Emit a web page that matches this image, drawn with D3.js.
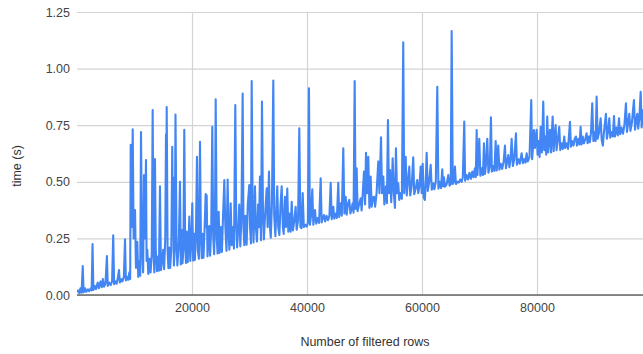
<!DOCTYPE html>
<html>
<head>
<meta charset="utf-8">
<script src="https://cdn.jsdelivr.net/npm/d3@7/dist/d3.min.js"></script>
<style>
  html, body { margin: 0; padding: 0; background: #ffffff; }
  #chart { width: 643px; height: 354px; }
  text { font-family: Arial, "Liberation Sans", sans-serif; }
</style>
</head>
<body>
<div id="chart"></div>
<script>
// tick labels
const yTicks = [0, 0.25, 0.5, 0.75, 1.0, 1.25];
const xTicks = [20000, 40000, 60000, 80000];
const xTitle = 'Number of filtered rows';
const yTitle = 'time (s)';

// [rows filtered (thousands), time (s)]
const samples = [
  [0.0, 0.012], [0.2, 0.02], [0.4, 0.008], [0.6, 0.03], [0.8, 0.01], [1.0, 0.128], [1.15, 0.012], [1.4, 0.03],
  [1.6, 0.014], [1.9, 0.025], [2.1, 0.017], [2.4, 0.03], [2.55, 0.02], [2.7, 0.225], [2.85, 0.022], [3.1, 0.04],
  [3.3, 0.026], [3.6, 0.055], [3.8, 0.03], [4.1, 0.06], [4.3, 0.034], [4.5, 0.07], [4.7, 0.037], [4.95, 0.05],
  [5.2, 0.172], [5.35, 0.04], [5.6, 0.055], [5.85, 0.044], [6.1, 0.06], [6.3, 0.264], [6.45, 0.048], [6.7, 0.06],
  [6.9, 0.05], [7.1, 0.075], [7.3, 0.11], [7.45, 0.055], [7.7, 0.07], [7.9, 0.06], [8.15, 0.08], [8.35, 0.246],
  [8.5, 0.064], [8.7, 0.08], [8.9, 0.067], [9.1, 0.1], [9.25, 0.07],
  [9.34, 0.663], [9.5, 0.3], [9.69, 0.732], [9.85, 0.25], [10.09, 0.375], [10.25, 0.12], [10.49, 0.235], [10.65, 0.08],
  [10.85, 0.15], [11.0, 0.085], [11.13, 0.72], [11.3, 0.2], [11.5, 0.1], [11.65, 0.53], [11.8, 0.25], [12.0, 0.596],
  [12.1, 0.15], [12.23, 0.2], [12.4, 0.093], [12.6, 0.16], [12.8, 0.1], [13.0, 0.18], [13.16, 0.817], [13.3, 0.2],
  [13.45, 0.1], [13.56, 0.6], [13.7, 0.2], [13.9, 0.105], [14.1, 0.17], [14.25, 0.107], [14.43, 0.48], [14.6, 0.11],
  [14.8, 0.15], [15.0, 0.2], [15.15, 0.114], [15.35, 0.25], [15.48, 0.71], [15.55, 0.4], [15.6, 0.83], [15.75, 0.2],
  [15.9, 0.118], [16.05, 0.21], [16.2, 0.12], [16.4, 0.2], [16.57, 0.655], [16.65, 0.3], [16.7, 0.52], [16.85, 0.13],
  [17.0, 0.2], [17.13, 0.797], [17.3, 0.25], [17.45, 0.13], [17.7, 0.22], [17.91, 0.5], [18.05, 0.135], [18.2, 0.287],
  [18.35, 0.14], [18.5, 0.2], [18.66, 0.73], [18.8, 0.25], [18.95, 0.142], [19.08, 0.28], [19.25, 0.145], [19.4, 0.22],
  [19.53, 0.346], [19.7, 0.15], [19.9, 0.25], [20.05, 0.405], [20.2, 0.152], [20.35, 0.27], [20.5, 0.155], [20.7, 0.3],
  [20.87, 0.61], [21.0, 0.2], [21.2, 0.16], [21.39, 0.677], [21.55, 0.25], [21.7, 0.163], [21.86, 0.27], [22.0, 0.165],
  [22.2, 0.3], [22.38, 0.446], [22.45, 0.3], [22.55, 0.44], [22.7, 0.17], [22.85, 0.25], [23.0, 0.305], [23.15, 0.174],
  [23.35, 0.3], [23.53, 0.743], [23.7, 0.25], [23.85, 0.18], [24.0, 0.35], [24.12, 0.864], [24.3, 0.25], [24.45, 0.183],
  [24.64, 0.368], [24.8, 0.186], [25.0, 0.3], [25.2, 0.19], [25.4, 0.35],
  [25.62, 0.508], [25.8, 0.3], [26.0, 0.195], [26.2, 0.51], [26.35, 0.28], [26.5, 0.2], [26.73, 0.405], [26.9, 0.22],
  [27.1, 0.3], [27.3, 0.205], [27.53, 0.839], [27.7, 0.3], [27.85, 0.21], [28.05, 0.3], [28.22, 0.4], [28.4, 0.214],
  [28.6, 0.35], [28.81, 0.89], [28.95, 0.3], [29.1, 0.22], [29.3, 0.35], [29.5, 0.222], [29.7, 0.4], [29.96, 0.486],
  [30.1, 0.3], [30.25, 0.228], [30.38, 0.945], [30.55, 0.35], [30.7, 0.232], [30.95, 0.48], [31.1, 0.3], [31.3, 0.236],
  [31.5, 0.4], [31.65, 0.3], [31.82, 0.523], [32.0, 0.242], [32.17, 0.854], [32.35, 0.35], [32.5, 0.245], [32.7, 0.35],
  [32.99, 0.471], [33.15, 0.3], [33.39, 0.545], [33.55, 0.3], [33.7, 0.253], [33.9, 0.4], [34.14, 0.947], [34.3, 0.35],
  [34.5, 0.26], [34.83, 0.48], [35.0, 0.3], [35.2, 0.265], [35.4, 0.4], [35.6, 0.48], [35.8, 0.3], [35.95, 0.27],
  [36.17, 0.434], [36.35, 0.3], [36.57, 0.47], [36.75, 0.28], [36.95, 0.36], [37.15, 0.28], [37.34, 0.412], [37.55, 0.285],
  [37.8, 0.33], [38.03, 0.39], [38.2, 0.288], [38.45, 0.33], [38.66, 0.736], [38.85, 0.3], [39.05, 0.295], [39.25, 0.45],
  [39.45, 0.3], [39.7, 0.31], [39.95, 0.302], [40.15, 0.32], [40.34, 0.913], [40.5, 0.31], [40.7, 0.35], [40.92, 0.467],
  [41.1, 0.31],
  [41.39, 0.375], [41.6, 0.315], [41.85, 0.34], [42.1, 0.318], [42.38, 0.515], [42.55, 0.32], [42.75, 0.34], [42.95, 0.353],
  [43.15, 0.325], [43.4, 0.35], [43.65, 0.33], [43.9, 0.35], [44.12, 0.496], [44.3, 0.335], [44.57, 0.39], [44.75, 0.337],
  [45.0, 0.36], [45.2, 0.34], [45.44, 0.496], [45.6, 0.345], [45.86, 0.405], [46.05, 0.35], [46.31, 0.648], [46.5, 0.36],
  [46.73, 0.434], [46.9, 0.355], [47.1, 0.4], [47.35, 0.42], [47.55, 0.36], [47.75, 0.38], [47.94, 0.405], [48.1, 0.364],
  [48.29, 0.945], [48.45, 0.38], [48.64, 0.56], [48.8, 0.37], [49.05, 0.4], [49.34, 0.427], [49.5, 0.373], [49.7, 0.45],
  [49.91, 0.545], [50.1, 0.4], [50.26, 0.628], [50.45, 0.45], [50.66, 0.61], [50.85, 0.385], [51.07, 0.523], [51.25, 0.39],
  [51.45, 0.43], [51.65, 0.434], [51.85, 0.39], [52.1, 0.45], [52.4, 0.59], [52.6, 0.45], [52.87, 0.697], [53.05, 0.45],
  [53.27, 0.523], [53.45, 0.4], [53.73, 0.48], [53.9, 0.405], [54.08, 0.773], [54.25, 0.45], [54.43, 0.552], [54.65, 0.41],
  [54.9, 0.604], [55.1, 0.45], [55.3, 0.385], [55.47, 0.648], [55.65, 0.45], [55.87, 0.493], [56.05, 0.42], [56.3, 0.45],
  [56.5, 0.425],
  [56.74, 1.116], [56.9, 0.45], [57.16, 0.61], [57.35, 0.44], [57.55, 0.5], [57.79, 0.567], [57.95, 0.44], [58.2, 0.48],
  [58.48, 0.608], [58.65, 0.445], [58.9, 0.47], [59.18, 0.508], [59.35, 0.45], [59.55, 0.48], [59.77, 0.567], [59.95, 0.45],
  [60.12, 0.58], [60.3, 0.43], [60.5, 0.42], [60.65, 0.5], [60.81, 0.628], [61.0, 0.46], [61.25, 0.5], [61.51, 0.575],
  [61.7, 0.465], [61.96, 0.493], [62.15, 0.467], [62.4, 0.5], [62.66, 0.92], [62.85, 0.47], [63.05, 0.5], [63.3, 0.472],
  [63.53, 0.555], [63.65, 0.48], [63.82, 0.52], [64.0, 0.478], [64.3, 0.49], [64.57, 0.53], [64.8, 0.483], [65.0, 0.49],
  [65.16, 1.166], [65.35, 0.49], [65.55, 0.5], [65.73, 0.567], [65.9, 0.49],
  [66.15, 0.5], [66.4, 0.497], [66.65, 0.51], [66.9, 0.5], [67.1, 0.52], [67.35, 0.766], [67.5, 0.505], [67.75, 0.53],
  [68.0, 0.51], [68.25, 0.54], [68.5, 0.513], [68.74, 0.545], [68.95, 0.52], [69.2, 0.56], [69.35, 0.52], [69.51, 0.729],
  [69.65, 0.53], [69.96, 0.69], [70.15, 0.527], [70.4, 0.56], [70.6, 0.53], [70.78, 0.67], [70.95, 0.535], [71.15, 0.58],
  [71.35, 0.69], [71.55, 0.54], [71.8, 0.57], [71.99, 0.785], [72.15, 0.545], [72.4, 0.57], [72.6, 0.548], [72.81, 0.68],
  [73.0, 0.55], [73.26, 0.66], [73.45, 0.553], [73.7, 0.58], [73.95, 0.557], [74.2, 0.59], [74.43, 0.66], [74.6, 0.56],
  [75.0, 0.618], [75.2, 0.565], [75.4, 0.6], [75.59, 0.69], [75.8, 0.57], [76.05, 0.6], [76.34, 0.714], [76.5, 0.575],
  [76.75, 0.6], [77.0, 0.58], [77.33, 0.626], [77.55, 0.582], [77.8, 0.6], [78.0, 0.585], [78.2, 0.626], [78.4, 0.59],
  [78.7, 0.61],
  [79.0, 0.861], [79.15, 0.6], [79.3, 0.65], [79.47, 0.729], [79.65, 0.65], [79.94, 0.73], [80.1, 0.62], [80.3, 0.68],
  [80.45, 0.61], [80.64, 0.743], [80.85, 0.63], [81.09, 0.854], [81.25, 0.64], [81.45, 0.7], [81.6, 0.62], [81.78, 0.788],
  [81.95, 0.63], [82.1, 0.68], [82.25, 0.73], [82.45, 0.63], [82.72, 0.788], [82.9, 0.635], [83.05, 0.7], [83.24, 0.751],
  [83.4, 0.64], [83.6, 0.68], [83.87, 0.743], [84.05, 0.64], [84.3, 0.67], [84.5, 0.645], [84.74, 0.7], [84.9, 0.65],
  [85.15, 0.67], [85.4, 0.645], [85.73, 0.765], [85.9, 0.655], [86.1, 0.68], [86.35, 0.66], [86.55, 0.69], [86.77, 0.7],
  [86.95, 0.66], [87.2, 0.69], [87.4, 0.665], [87.59, 0.743], [87.75, 0.665], [87.95, 0.7], [88.15, 0.67], [88.4, 0.69],
  [88.63, 0.714], [88.8, 0.67], [89.0, 0.7], [89.2, 0.675], [89.4, 0.72], [89.61, 0.847], [89.8, 0.68], [90.0, 0.72],
  [90.2, 0.68], [90.37, 0.876], [90.55, 0.69], [90.8, 0.72], [91.07, 0.78], [91.25, 0.685], [91.45, 0.66], [91.65, 0.72],
  [91.99, 0.8], [92.15, 0.69], [92.35, 0.72], [92.57, 0.78], [92.75, 0.695], [93.0, 0.72], [93.2, 0.7], [93.39, 0.79],
  [93.55, 0.7], [93.8, 0.74], [94.05, 0.705], [94.26, 0.78], [94.45, 0.71], [94.7, 0.74], [94.95, 0.712], [95.2, 0.75],
  [95.47, 0.847], [95.65, 0.72], [95.85, 0.76], [96.05, 0.8], [96.25, 0.725], [96.5, 0.76], [96.86, 0.861], [97.05, 0.73],
  [97.25, 0.77], [97.44, 0.8], [97.6, 0.735], [97.8, 0.78], [98.03, 0.898], [98.2, 0.74], [98.43, 0.82]
];

const width = 643;
const height = 354;
const margin = { top: 12, right: 0, bottom: 59, left: 77 };

const svg = d3
  .select('#chart')
  .append('svg')
  .attr('width', width)
  .attr('height', height);

const x = d3
  .scaleLinear()
  .domain([0, 98435])
  .range([margin.left, width - margin.right]);
const y = d3
  .scaleLinear()
  .domain([0, 1.25])
  .range([height - margin.bottom, margin.top]);

// horizontal grid + y labels
svg
  .append('g')
  .attr('transform', `translate(${margin.left},0)`)
  .call(
    d3
      .axisLeft(y)
      .tickValues(yTicks)
      .tickSize(-(width - margin.left - margin.right))
      .tickPadding(7)
      .tickFormat(d3.format('.2f'))
  )
  .call((g) => g.select('.domain').remove())
  .call((g) => g.selectAll('.tick line').attr('stroke', '#d4d4d4').attr('stroke-width', 1.2))
  .call((g) => g.selectAll('.tick text').attr('fill', '#444').style('font-size', '12.5px'));

// vertical grid + x labels
svg
  .append('g')
  .attr('transform', `translate(0,${height - margin.bottom})`)
  .call(
    d3
      .axisBottom(x)
      .tickValues(xTicks)
      .tickSize(-(height - margin.top - margin.bottom))
      .tickPadding(8)
      .tickFormat(d3.format('d'))
  )
  .call((g) => g.select('.domain').remove())
  .call((g) => g.selectAll('.tick line').attr('stroke', '#d4d4d4').attr('stroke-width', 1.2))
  .call((g) => g.selectAll('.tick text').attr('fill', '#444').style('font-size', '12.5px'));

svg
  .append('clipPath')
  .attr('id', 'plot-clip')
  .append('rect')
  .attr('x', margin.left)
  .attr('y', margin.top - 2)
  .attr('width', width - margin.left - margin.right)
  .attr('height', height - margin.top - margin.bottom + 2);

const line = d3
  .line()
  .x((d) => x(d[0] * 1000))
  .y((d) => y(d[1]));

svg
  .append('path')
  .datum(samples)
  .attr('clip-path', 'url(#plot-clip)')
  .attr('fill', 'none')
  .attr('stroke', '#4285f4')
  .attr('stroke-width', 2.1)
  .attr('stroke-linejoin', 'round')
  .attr('d', line);

// zero baseline
svg
  .append('line')
  .attr('x1', margin.left)
  .attr('x2', width - margin.right)
  .attr('y1', y(0))
  .attr('y2', y(0))
  .attr('stroke', '#666')
  .attr('stroke-width', 1.6);

svg
  .append('text')
  .attr('x', 365)
  .attr('y', 346)
  .attr('text-anchor', 'middle')
  .attr('fill', '#333')
  .style('font-size', '12.5px')
  .text(xTitle);

svg
  .append('text')
  .attr('transform', `translate(21,166) rotate(-90)`)
  .attr('text-anchor', 'middle')
  .attr('fill', '#333')
  .style('font-size', '12.5px')
  .text(yTitle);
</script>
</body>
</html>
